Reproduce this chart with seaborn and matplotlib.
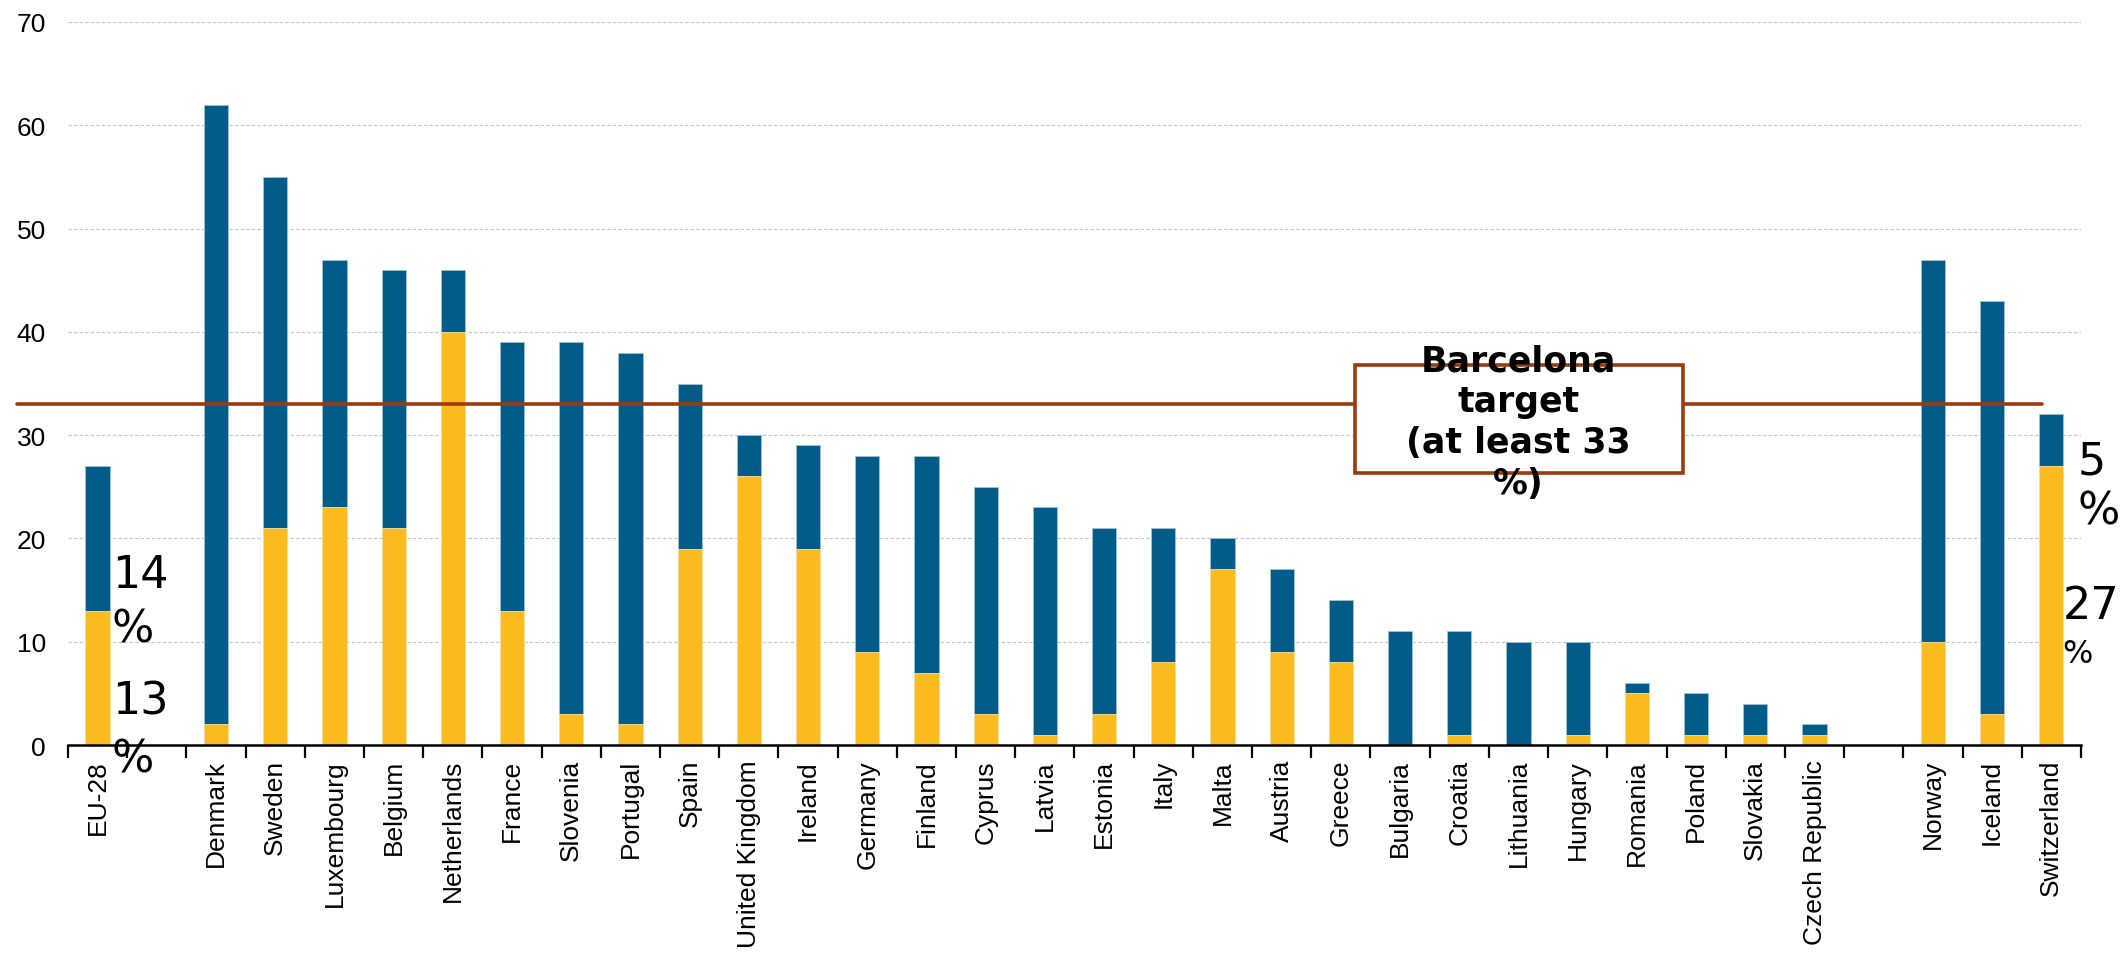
import matplotlib
matplotlib.use("Agg")
import matplotlib.pyplot as plt
import matplotlib.patches as mpatches
import seaborn as sns
import pandas as pd
import numpy as np

# childcare use by hours per week (% of children under 3)
countries = ['EU-28', 'Denmark', 'Sweden', 'Luxembourg', 'Belgium', 'Netherlands',
             'France', 'Slovenia', 'Portugal', 'Spain', 'United Kingdom', 'Ireland',
             'Germany', 'Finland', 'Cyprus', 'Latvia', 'Estonia', 'Italy', 'Malta',
             'Austria', 'Greece', 'Bulgaria', 'Croatia', 'Lithuania', 'Hungary',
             'Romania', 'Poland', 'Slovakia', 'Czech Republic',
             'Norway', 'Iceland', 'Switzerland']
total = [27, 62, 55, 47, 46, 46, 39, 39, 38, 35, 30, 29, 28, 28, 25, 23, 21, 21, 20,
         17, 14, 11, 11, 10, 10, 6, 5, 4, 2, 47, 43, 32]
full_time = [13, 2, 21, 23, 21, 40, 13, 3, 2, 19, 26, 19, 9, 7, 3, 1, 3, 8, 17,
             9, 8, 0, 1, 0, 1, 5, 1, 1, 1, 10, 3, 27]
target = 33

# slot order, with blank spacers
order = ['EU-28', ' '] + countries[1:29] + ['  '] + countries[29:]

df = pd.DataFrame({'country': countries, 'total': total, 'full_time': full_time})

blue = '#015c89'
yellow = '#fbbb1f'
red = '#9c3a10'

sns.set_style('white')
plt.rcParams['text.color'] = 'black'
fig = plt.figure(figsize=(21.26, 9.7), dpi=100)
ax = fig.add_axes([0.032, 0.2309, 0.9468, 0.7454])

sns.barplot(data=df, x='country', y='total', order=order, color=blue,
            saturation=1, width=0.41, errorbar=None, ax=ax,
            edgecolor='#9fc3d6', linewidth=0.6, zorder=3)
sns.barplot(data=df, x='country', y='full_time', order=order, color=yellow,
            saturation=1, width=0.41, errorbar=None, ax=ax,
            edgecolor='#fde3a0', linewidth=0.6, zorder=3)

ax.set_xlim(-0.5, len(order) - 0.5)
ax.set_ylim(0, 70)
ax.set_yticks(range(0, 71, 10))
ax.set_xlabel('')
ax.set_ylabel('')

for y in range(10, 71, 10):
    ax.axhline(y, color='#c4c4c4', lw=0.8, ls=(0, (3, 2)), zorder=1)

for s in ['top', 'right', 'left']:
    ax.spines[s].set_visible(False)
ax.spines['bottom'].set_color('black')
ax.spines['bottom'].set_linewidth(1.8)
ax.spines['bottom'].set_zorder(5)

ax.set_xticks(range(len(order)))
ax.set_xticklabels(order, rotation=90, fontsize=19, family='Liberation Sans', color='black')
ax.set_xticks(np.arange(-0.5, len(order), 1), minor=True)
ax.tick_params(axis='x', which='major', bottom=False, length=0, pad=10)
ax.tick_params(axis='x', which='minor', bottom=True, length=9, width=1.6,
               color='black', direction='out')
ax.tick_params(axis='y', left=False, length=0, labelsize=19, pad=16, labelcolor='black')
for lab in ax.get_yticklabels():
    lab.set_family('Liberation Sans')

# Barcelona target line
ax.plot([-1.36, 32.85], [target, target], color=red, lw=2.6, zorder=4, clip_on=False)
box = mpatches.Rectangle((21.24, 26.3), 5.54, 10.5, facecolor='white',
                         edgecolor=red, lw=2.6, zorder=6)
ax.add_patch(box)
ax.text(24.0, 31.3, 'Barcelona\ntarget\n(at least 33\n%)', ha='center', va='center',
        fontsize=25, fontweight='bold', family='DejaVu Sans', linespacing=1.25,
        color='black', zorder=7)

# value labels
lbl = dict(ha='left', va='center', family='DejaVu Sans', color='black', zorder=7, clip_on=False)
ax.text(0.24, 16.5, '14', fontsize=32, **lbl)
ax.text(0.24, 11.2, '%', fontsize=32, **lbl)
ax.text(0.24, 4.3, '13', fontsize=32, **lbl)
ax.text(0.24, -1.4, '%', fontsize=32, **lbl)
sw = order.index('Switzerland')
ax.text(sw + 0.44, 27.5, '5', fontsize=32, **lbl)
ax.text(sw + 0.44, 22.7, '%', fontsize=32, **lbl)
ax.text(sw + 0.19, 13.5, '27', fontsize=32, **lbl)
ax.text(sw + 0.19, 8.9, '%', fontsize=23, **lbl)

fig.savefig('out.png', dpi=100)
